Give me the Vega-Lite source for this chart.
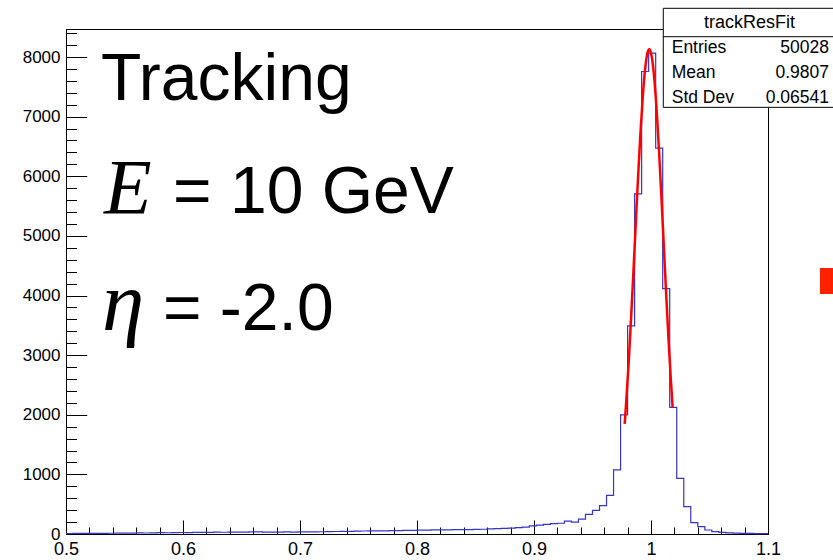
{
  "$schema": "https://vega.github.io/schema/vega-lite/v6.json",
  "width": 702,
  "height": 505,
  "autosize": {"type": "none"},
  "padding": {"left": 66, "top": 29, "right": 65, "bottom": 26},
  "background": "white",
  "config": {
    "view": {"stroke": "black", "strokeWidth": 1},
    "axis": {"labelFont": "Liberation Sans", "domainColor": "black", "tickColor": "black", "labelColor": "black", "grid": false, "title": null, "labelFlush": false, "labelOverlap": false}
  },
  "datasets": {
    "hist": [
      {"x":0.5,"y":8},{"x":0.506,"y":10},{"x":0.512,"y":9},{"x":0.518,"y":11},{"x":0.524,"y":12},{"x":0.53,"y":10},{"x":0.536,"y":13},{"x":0.542,"y":15},{"x":0.548,"y":14},{"x":0.554,"y":16},
      {"x":0.56,"y":18},{"x":0.566,"y":17},{"x":0.572,"y":20},{"x":0.578,"y":22},{"x":0.584,"y":21},{"x":0.59,"y":24},{"x":0.596,"y":25},{"x":0.602,"y":23},{"x":0.608,"y":26},{"x":0.614,"y":28},
      {"x":0.62,"y":27},{"x":0.626,"y":30},{"x":0.632,"y":29},{"x":0.638,"y":31},{"x":0.644,"y":33},{"x":0.65,"y":32},{"x":0.656,"y":35},{"x":0.662,"y":34},{"x":0.668,"y":33},{"x":0.674,"y":32},
      {"x":0.68,"y":32},{"x":0.686,"y":34},{"x":0.692,"y":33},{"x":0.698,"y":35},{"x":0.704,"y":36},{"x":0.71,"y":35},{"x":0.716,"y":38},{"x":0.722,"y":40},{"x":0.728,"y":42},{"x":0.734,"y":44},
      {"x":0.74,"y":45},{"x":0.746,"y":47},{"x":0.752,"y":50},{"x":0.758,"y":52},{"x":0.764,"y":54},{"x":0.77,"y":53},{"x":0.776,"y":56},{"x":0.782,"y":58},{"x":0.788,"y":60},{"x":0.794,"y":62},
      {"x":0.8,"y":65},{"x":0.806,"y":66},{"x":0.812,"y":68},{"x":0.818,"y":70},{"x":0.824,"y":69},{"x":0.83,"y":72},{"x":0.836,"y":75},{"x":0.842,"y":74},{"x":0.848,"y":78},{"x":0.854,"y":80},
      {"x":0.86,"y":85},{"x":0.866,"y":90},{"x":0.872,"y":95},{"x":0.878,"y":100},{"x":0.884,"y":108},{"x":0.89,"y":115},{"x":0.896,"y":135},{"x":0.902,"y":150},{"x":0.908,"y":160},{"x":0.914,"y":175},
      {"x":0.92,"y":180},{"x":0.926,"y":215},{"x":0.932,"y":200},{"x":0.938,"y":250},{"x":0.944,"y":330},{"x":0.95,"y":397},{"x":0.956,"y":475},{"x":0.962,"y":649},{"x":0.968,"y":1074},{"x":0.974,"y":1997},
      {"x":0.98,"y":3490},{"x":0.986,"y":5705},{"x":0.992,"y":7757},{"x":0.998,"y":8065},{"x":1.004,"y":6471},{"x":1.01,"y":4116},{"x":1.016,"y":2125},{"x":1.022,"y":934},{"x":1.028,"y":459},{"x":1.034,"y":190},
      {"x":1.04,"y":123},{"x":1.046,"y":67},{"x":1.052,"y":39},{"x":1.058,"y":28},{"x":1.064,"y":20},{"x":1.07,"y":15},{"x":1.076,"y":12},{"x":1.082,"y":9},{"x":1.088,"y":7},{"x":1.094,"y":5},
      {"x":1.1,"y":5}
    ],
    "fit": [
      {"x":0.9775,"y":1848},{"x":0.979,"y":2267},{"x":0.981,"y":2906},{"x":0.983,"y":3628},{"x":0.985,"y":4408},{"x":0.987,"y":5214},{"x":0.989,"y":6004},{"x":0.991,"y":6730},{"x":0.993,"y":7345},{"x":0.995,"y":7802},{"x":0.997,"y":8069},{"x":0.9985,"y":8130},{"x":0.999,"y":8123},{"x":1.001,"y":7961},{"x":1.003,"y":7595},{"x":1.005,"y":7054},{"x":1.007,"y":6378},{"x":1.009,"y":5614},{"x":1.011,"y":4811},{"x":1.013,"y":4012},{"x":1.015,"y":3258},{"x":1.017,"y":2575},{"x":1.0185,"y":2121}
    ]
  },
  "layer": [
    {
      "data": {"name": "hist"},
      "mark": {"type": "line", "interpolate": "step-after", "color": "#3535c8", "strokeWidth": 1.2},
      "encoding": {
        "x": {"field": "x", "type": "quantitative", "scale": {"domain": [0.5, 1.1], "nice": false, "zero": false},
              "axis": {"orient": "bottom", "values": [0.5,0.6,0.7,0.8,0.9,1,1.1], "format": "~g", "tickSize": -14, "labelPadding": 20.4, "labelFontSize": 18, "domain": true}},
        "y": {"field": "y", "type": "quantitative", "scale": {"domain": [0, 8470], "nice": false},
              "axis": {"orient": "left", "values": [0,1000,2000,3000,4000,5000,6000,7000,8000], "format": "d", "tickSize": -20.7, "labelPadding": 26.7, "labelFontSize": 17, "domain": true}}
      }
    },
    {
      "data": {"name": "fit"},
      "mark": {"type": "line", "interpolate": "monotone", "color": "#ff0000", "strokeWidth": 2.5},
      "encoding": {
        "x": {"field": "x", "type": "quantitative", "scale": {"domain": [0.5, 1.1], "nice": false, "zero": false},
              "axis": {"orient": "bottom", "values": [0.52,0.54,0.56,0.58,0.62,0.64,0.66,0.68,0.72,0.74,0.76,0.78,0.82,0.84,0.86,0.88,0.92,0.94,0.96,0.98,1.02,1.04,1.06,1.08], "tickSize": -7, "labels": false, "domain": false}},
        "y": {"field": "y", "type": "quantitative", "scale": {"domain": [0, 8470], "nice": false},
              "axis": {"orient": "left", "values": [200,400,600,800,1200,1400,1600,1800,2200,2400,2600,2800,3200,3400,3600,3800,4200,4400,4600,4800,5200,5400,5600,5800,6200,6400,6600,6800,7200,7400,7600,7800,8200,8400], "tickSize": -10.5, "labels": false, "domain": false}}
      }
    },
    {
      "data": {"values": [{"t": "Tracking"}]},
      "mark": {"type": "text", "font": "Liberation Sans", "fontSize": 66, "align": "left", "baseline": "alphabetic", "color": "black"},
      "encoding": {"x": {"datum": 0.5299, "scale": {"domain": [0.5, 1.1], "nice": false, "zero": false}, "axis": null}, "y": {"datum": 7279, "scale": {"domain": [0, 8470], "nice": false}, "axis": null}, "text": {"field": "t"}}
    },
    {
      "data": {"values": [{"t": "E"}]},
      "mark": {"type": "text", "font": "Liberation Serif", "fontStyle": "italic", "fontSize": 78, "align": "left", "baseline": "alphabetic", "color": "black"},
      "encoding": {"x": {"datum": 0.5325, "axis": null}, "y": {"datum": 5379, "axis": null}, "text": {"field": "t"}}
    },
    {
      "data": {"values": [{"t": "= 10 GeV"}]},
      "mark": {"type": "text", "font": "Liberation Sans", "fontSize": 66, "align": "left", "baseline": "alphabetic", "color": "black"},
      "encoding": {"x": {"datum": 0.5915, "axis": null}, "y": {"datum": 5379, "axis": null}, "text": {"field": "t"}}
    },
    {
      "data": {"values": [{"t": "η"}]},
      "mark": {"type": "text", "font": "Liberation Serif", "fontStyle": "italic", "fontSize": 85, "align": "left", "baseline": "alphabetic", "color": "black"},
      "encoding": {"x": {"datum": 0.5308, "axis": null}, "y": {"datum": 3421, "axis": null}, "text": {"field": "t"}}
    },
    {
      "data": {"values": [{"t": "= -2.0"}]},
      "mark": {"type": "text", "font": "Liberation Sans", "fontSize": 66, "align": "left", "baseline": "alphabetic", "color": "black"},
      "encoding": {"x": {"datum": 0.5829, "axis": null}, "y": {"datum": 3421, "axis": null}, "text": {"field": "t"}}
    },
    {
      "data": {"values": [{}]},
      "mark": {"type": "rect", "fill": "white", "stroke": "black", "strokeWidth": 1},
      "encoding": {"x": {"datum": 1.0105, "axis": null}, "x2": {"datum": 1.16}, "y": {"datum": 8817, "axis": null}, "y2": {"datum": 7156}}
    },
    {
      "data": {"values": [{}]},
      "mark": {"type": "rule", "color": "black", "strokeWidth": 1},
      "encoding": {"x": {"datum": 1.0105, "axis": null}, "x2": {"datum": 1.16}, "y": {"datum": 8341, "axis": null}}
    },
    {
      "data": {"values": [{}]},
      "mark": {"type": "rect", "fill": "#ff2200"},
      "encoding": {"x": {"datum": 1.1444, "axis": null}, "x2": {"datum": 1.16}, "y": {"datum": 4461, "axis": null}, "y2": {"datum": 4025}}
    },
    {
      "data": {"values": [{"t": "trackResFit"}]},
      "mark": {"type": "text", "font": "Liberation Sans", "fontSize": 18, "align": "center", "baseline": "alphabetic", "color": "black"},
      "encoding": {"x": {"datum": 1.0842, "axis": null}, "y": {"datum": 8481, "axis": null}, "text": {"field": "t"}}
    },
    {
      "data": {"values": [{"t": "Entries"}]},
      "mark": {"type": "text", "font": "Liberation Sans", "fontSize": 17.5, "align": "left", "baseline": "alphabetic", "color": "black"},
      "encoding": {"x": {"datum": 1.0177, "axis": null}, "y": {"datum": 8072, "axis": null}, "text": {"field": "t"}}
    },
    {
      "data": {"values": [{"t": "50028"}]},
      "mark": {"type": "text", "font": "Liberation Sans", "fontSize": 17.5, "align": "right", "baseline": "alphabetic", "color": "black"},
      "encoding": {"x": {"datum": 1.1521, "axis": null}, "y": {"datum": 8072, "axis": null}, "text": {"field": "t"}}
    },
    {
      "data": {"values": [{"t": "Mean"}]},
      "mark": {"type": "text", "font": "Liberation Sans", "fontSize": 17.5, "align": "left", "baseline": "alphabetic", "color": "black"},
      "encoding": {"x": {"datum": 1.0177, "axis": null}, "y": {"datum": 7653, "axis": null}, "text": {"field": "t"}}
    },
    {
      "data": {"values": [{"t": "0.9807"}]},
      "mark": {"type": "text", "font": "Liberation Sans", "fontSize": 17.5, "align": "right", "baseline": "alphabetic", "color": "black"},
      "encoding": {"x": {"datum": 1.1521, "axis": null}, "y": {"datum": 7653, "axis": null}, "text": {"field": "t"}}
    },
    {
      "data": {"values": [{"t": "Std Dev"}]},
      "mark": {"type": "text", "font": "Liberation Sans", "fontSize": 17.5, "align": "left", "baseline": "alphabetic", "color": "black"},
      "encoding": {"x": {"datum": 1.0177, "axis": null}, "y": {"datum": 7234, "axis": null}, "text": {"field": "t"}}
    },
    {
      "data": {"values": [{"t": "0.06541"}]},
      "mark": {"type": "text", "font": "Liberation Sans", "fontSize": 17.5, "align": "right", "baseline": "alphabetic", "color": "black"},
      "encoding": {"x": {"datum": 1.1521, "axis": null}, "y": {"datum": 7234, "axis": null}, "text": {"field": "t"}}
    }
  ],
  "resolve": {"axis": {"x": "independent", "y": "independent"}}
}
